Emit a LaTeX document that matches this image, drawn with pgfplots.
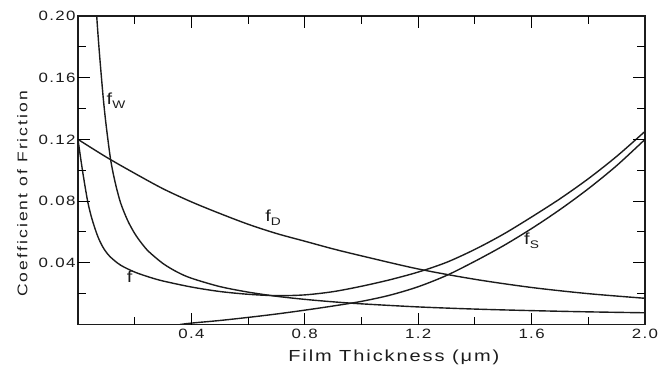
\documentclass[border=0pt]{standalone}
\usepackage{fontspec}
\setmainfont{Liberation Sans}
\newfontfamily\curvefont[FakeStretch=1.25]{Liberation Sans}
\newfontfamily\tickfont[FakeStretch=1.25,LetterSpace=10]{Liberation Sans}
\newfontfamily\xlabfont[FakeStretch=1.25,LetterSpace=12]{Liberation Sans}
\newfontfamily\ylabfont[FakeStretch=1.25,LetterSpace=15]{Liberation Sans}
\usepackage{pgfplots}
\pgfplotsset{compat=1.18}
\usetikzlibrary{calc}
\definecolor{ink}{HTML}{1C1C1C}
\newcommand\fsub[1]{f\raisebox{-4pt}{\fontsize{11}{11}\selectfont #1}}
\begin{document}
\begin{tikzpicture}
\begin{axis}[
  scale only axis, width=567pt, height=308.5pt,
  xmin=0, xmax=2, ymin=0, ymax=0.2,
  xtick={0,0.4,0.8,1.2,1.6,2.0},
  xticklabels={,0.4,0.8,1.2,1.6,2.0},
  minor xtick={0.2,0.6,1.0,1.4,1.8},
  ytick={0,0.04,0.08,0.12,0.16,0.20},
  yticklabels={,0.04,0.08,0.12,0.16,0.20},
  minor ytick={0.02,0.06,0.10,0.14,0.18},
  tick align=inside,
  major tick length=12pt, minor tick length=8pt,
  tick style={black, line width=1pt},
  axis on top,
  axis line style={ink, line width=1.2pt},
  tick label style={font=\tickfont\fontsize{13.5}{13.5}\selectfont, text=ink},
  yticklabel style={xshift=1pt},
  xticklabel style={yshift=-1pt},
  xlabel={\xlabfont\fontsize{16}{16}\selectfont Film Thickness (μm)},
  xlabel style={at={(axis description cs:0.557,0)}, anchor=north, yshift=-22pt, text=ink},
  ylabel={\ylabfont\fontsize{14}{14}\selectfont Coefficient of Friction},
  ylabel style={at={([xshift=-47pt]axis description cs:0,0.424)}, anchor=south, text=ink},
]
% f_W
\addplot[ink, line width=1.4pt, smooth] coordinates {(0.062,0.215)(0.066,0.200)(0.073,0.182)(0.080,0.166)(0.090,0.145)(0.100,0.128)(0.115,0.107)(0.130,0.093)(0.150,0.079)(0.175,0.0675)(0.200,0.0590)(0.225,0.0525)(0.250,0.0472)(0.300,0.0395)(0.350,0.0340)(0.400,0.0300)(0.500,0.0246)(0.600,0.0210)(0.700,0.0183)(0.800,0.0163)(0.900,0.0147)(1.000,0.0134)(1.200,0.0114)(1.400,0.0100)(1.600,0.0090)(1.800,0.0082)(2.000,0.0076)};
% f
\addplot[ink, line width=1.4pt, smooth] coordinates {(0,0.120)(0.01,0.107)(0.02,0.095)(0.035,0.079)(0.05,0.068)(0.07,0.057)(0.09,0.0495)(0.113,0.0440)(0.15,0.0385)(0.2,0.0340)(0.25,0.0308)(0.3,0.0282)(0.4,0.0243)(0.5,0.0214)(0.6,0.0196)(0.7,0.0187)(0.8,0.0192)(0.9,0.0213)(1.0,0.0248)(1.1,0.0290)(1.2,0.0340)(1.3,0.0403)(1.4,0.0487)(1.5,0.0585)(1.6,0.0697)(1.7,0.0815)(1.8,0.0945)(1.9,0.1090)(2.0,0.1252)};
% f_D
\addplot[ink, line width=1.4pt, smooth] coordinates {(0,0.120)(0.1,0.1085)(0.2,0.098)(0.3,0.088)(0.4,0.0795)(0.5,0.072)(0.6,0.065)(0.7,0.059)(0.8,0.054)(0.9,0.049)(1.0,0.0445)(1.2,0.0360)(1.4,0.0293)(1.6,0.0240)(1.8,0.0200)(2.0,0.0170)};
% f_S
\addplot[ink, line width=1.4pt, smooth] coordinates {(0.36,0)(0.4,0.0009)(0.5,0.0026)(0.6,0.0046)(0.7,0.0068)(0.8,0.0093)(0.9,0.0120)(1.0,0.0150)(1.1,0.0190)(1.2,0.0245)(1.3,0.0318)(1.4,0.0410)(1.5,0.0510)(1.6,0.0622)(1.7,0.0745)(1.8,0.0880)(1.9,0.1030)(2.0,0.1200)};
\node[font=\curvefont\fontsize{16}{16}\selectfont, text=ink] at (axis cs:0.134,0.145) {\fsub{W}};
\node[font=\curvefont\fontsize{16}{16}\selectfont, text=ink] at (axis cs:0.688,0.069) {\fsub{D}};
\node[font=\curvefont\fontsize{16}{16}\selectfont, text=ink] at (axis cs:0.182,0.031) {f};
\node[font=\curvefont\fontsize{16}{16}\selectfont, text=ink] at (axis cs:1.60,0.054) {\fsub{S}};
\node[font=\tickfont\fontsize{13.5}{13.5}\selectfont, text=ink, anchor=north] at (axis description cs:0,0) [xshift=-8pt, yshift=-5pt] {0};
\coordinate (sw) at (rel axis cs:0,0);
\coordinate (se) at (rel axis cs:1,0);
\coordinate (nw) at (rel axis cs:0,1);
\coordinate (ne) at (rel axis cs:1,1);
\end{axis}
% inward tick marks on all four sides, drawn again outside the axis
\foreach \f/\l in {0.1/8pt,0.2/12pt,0.3/8pt,0.4/12pt,0.5/8pt,0.6/12pt,0.7/8pt,0.8/12pt,0.9/8pt} {
  \draw[black, line width=1pt] ($(sw)!\f!(se)$) -- ++(0pt,\l);
  \draw[black, line width=1pt] ($(nw)!\f!(ne)$) -- ++(0pt,-\l);
  \draw[black, line width=1pt] ($(sw)!\f!(nw)$) -- ++(\l,0pt);
  \draw[black, line width=1pt] ($(se)!\f!(ne)$) -- ++(-7pt,0pt);
}
\pgfresetboundingbox
\path ([shift={(-78pt,-42.5pt)}]sw) rectangle ([shift={(23pt,16pt)}]ne);
\end{tikzpicture}
\end{document}
